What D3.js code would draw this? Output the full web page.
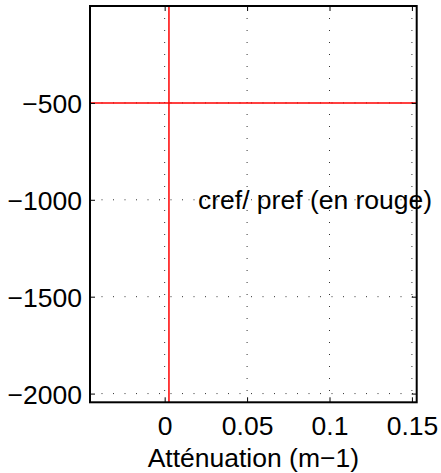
<!DOCTYPE html>
<html><head><meta charset="utf-8">
<script src="https://cdn.jsdelivr.net/npm/d3@7"></script>
<style>
body{margin:0;background:#fff}
text{font-family:"Liberation Sans",Arial,Helvetica,sans-serif;fill:#000}
</style></head>
<body><svg id="c" width="441" height="473"></svg>
<script>
const xDomain = [-0.0453, 0.1529];
const yDomain = [-2045, 0];
const xTicks = [0, 0.05, 0.1, 0.15];
const xTickLabels = ["0", "0.05", "0.1", "0.15"];
const yTicks = [-500, -1000, -1500, -2000];
const yTickLabels = ["\u2212500", "\u22121000", "\u22121500", "\u22122000"];
const crefX = [0.0026];   // vertical red line (cref)
const prefY = [-500];     // horizontal red line (pref)
const annotX = [0.0202];
const annotY = [-1000];
const annotText = ["cref/ pref (en rouge)"];
const xLabel = "Atténuation (m\u22121)";

const m = {l:90, t:6, r:441-416.7, b:473-402.3};
const W = 441 - m.l - m.r, H = 473 - m.t - m.b;
const svg = d3.select("#c");
const g = svg.append("g").attr("transform", `translate(${m.l},${m.t})`);
const x = d3.scaleLinear().domain(xDomain).range([0, W]);
const y = d3.scaleLinear().domain(yDomain).range([H, 0]);

// gridlines
g.selectAll(".gx").data(xTicks).join("line")
  .attr("x1", d=>x(d)).attr("x2", d=>x(d)).attr("y1", 0).attr("y2", H)
  .attr("stroke", "#333").attr("stroke-width", 1).attr("stroke-dasharray", "1,11");
g.selectAll(".gy").data(yTicks).join("line")
  .attr("y1", d=>y(d)).attr("y2", d=>y(d)).attr("x1", 0).attr("x2", W)
  .attr("stroke", "#333").attr("stroke-width", 1).attr("stroke-dasharray", "1,10.5");

// red lines
g.selectAll(".cref").data(crefX).join("line")
  .attr("x1", d=>x(d)).attr("x2", d=>x(d)).attr("y1", 0).attr("y2", H)
  .attr("stroke", "#ff0000").attr("stroke-width", 1.5);
g.selectAll(".pref").data(prefY).join("line")
  .attr("y1", d=>y(d)).attr("y2", d=>y(d)).attr("x1", 0).attr("x2", W)
  .attr("stroke", "#ff0000").attr("stroke-width", 1.5);

// axes (ticks inside)
const fs = 26.5;
const xb = g.append("g").attr("transform", `translate(0,${H})`)
  .call(d3.axisBottom(x).tickValues(xTicks).tickFormat((d,i)=>xTickLabels[i]).tickSizeInner(-5).tickSizeOuter(0));
const xt = g.append("g")
  .call(d3.axisTop(x).tickValues(xTicks).tickFormat("").tickSizeInner(-5).tickSizeOuter(0));
const yl = g.append("g")
  .call(d3.axisLeft(y).tickValues(yTicks).tickFormat((d,i)=>yTickLabels[i]).tickSizeInner(-5).tickSizeOuter(0));
const yr = g.append("g").attr("transform", `translate(${W},0)`)
  .call(d3.axisRight(y).tickValues(yTicks).tickFormat("").tickSizeInner(-5).tickSizeOuter(0));
[xb,xt,yl,yr].forEach(a=>{
  a.select(".domain").remove();
  a.selectAll(".tick line").attr("stroke","#000").attr("stroke-width",1);
  a.selectAll("text").attr("font-size", fs).attr("font-family","Liberation Sans, Arial, sans-serif").attr("fill","#000");
});
xb.selectAll("text").attr("y", 435 - 402.3).attr("dy", 0);
yl.selectAll("text").attr("x", -(m.l - 82)).attr("dy", "0.36em");

// frame
g.append("rect").attr("x",0).attr("y",0).attr("width",W).attr("height",H)
  .attr("fill","none").attr("stroke","#000").attr("stroke-width",2);

// annotation
g.selectAll(".annot").data(annotText).join("text")
  .attr("x",(d,i)=>x(annotX[i])).attr("y",(d,i)=>y(annotY[i])).attr("dy","0.36em")
  .attr("font-size", fs).text(d=>d);

// x label
svg.append("text").attr("x", m.l + W/2).attr("y", 466.5).attr("text-anchor","middle")
  .attr("font-size", fs).text(xLabel);
</script></body></html>
